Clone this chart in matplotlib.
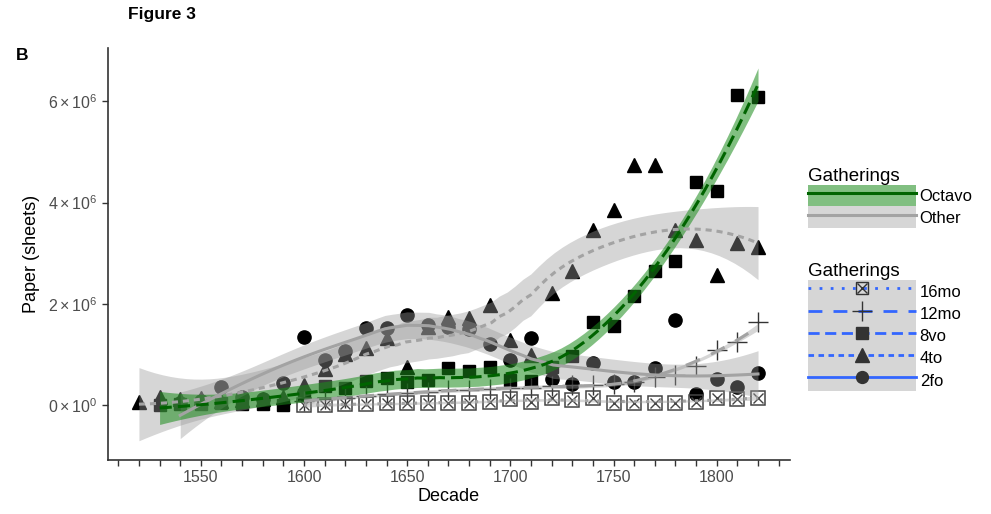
import numpy as np
import matplotlib
matplotlib.use('Agg')
import matplotlib.pyplot as plt
from matplotlib.lines import Line2D
from matplotlib.patches import Patch
from matplotlib.ticker import MultipleLocator, FuncFormatter

plt.rcParams['font.family'] = ['Liberation Sans', 'DejaVu Sans']
plt.rcParams['mathtext.fontset'] = 'custom'
plt.rcParams['mathtext.rm'] = 'Liberation Sans'
plt.rcParams['mathtext.it'] = 'Liberation Sans'

nan = np.nan

# decades on the x axis
decades = np.arange(1520, 1830, 10)

# paper use in millions of sheets (nan = no data)
fo2 = [nan, nan, 0.05, 0.08, 0.37, 0.17, 0.12, 0.43, 1.34, 0.90, 1.08, 1.52, 1.52, 1.78, 1.59, 1.55,
       1.50, 1.20, 0.90, 1.32, 0.51, 0.42, 0.83, 0.45, 0.45, 0.73, 1.69, 0.22, 0.51, 0.36, 0.64]
to4 = [0.07, 0.17, 0.12, 0.15, 0.08, 0.10, 0.12, 0.17, 0.40, 0.72, 1.02, 1.13, 1.33, 0.76, 1.55, 1.75,
       1.72, 1.98, 1.29, 1.00, 2.21, 2.65, 3.46, 3.86, 4.75, 4.75, 3.46, 3.27, 2.58, 3.20, 3.13]
vo8 = [nan, 0.00, 0.02, 0.02, 0.05, 0.03, 0.03, 0.00, 0.20, 0.39, 0.35, 0.48, 0.53, 0.45, 0.50, 0.74,
       0.68, 0.76, 0.50, 0.47, 0.75, 0.97, 1.65, 1.57, 2.16, 2.64, 2.84, 4.40, 4.22, 6.13, 6.09]
mo12 = [nan] * 8 + [0.08, 0.12, 0.15, 0.18, 0.22, 0.25, 0.27, 0.30, 0.30, 0.32, 0.35, 0.35, 0.38,
                    0.40, 0.40, 0.42, 0.45, 0.55, 0.60, 0.78, 1.10, 1.24, 1.64]
mo16 = [nan] * 8 + [0.00, 0.01, 0.02, 0.03, 0.04, 0.04, 0.05, 0.05, 0.05, 0.06, 0.12, 0.07, 0.15,
                    0.10, 0.15, 0.04, 0.04, 0.05, 0.05, 0.06, 0.15, 0.12, 0.15]

GREEN_FILL = '#1a8c1a'
GREEN_LINE = '#006400'
GRAY_FILL = '#999999'
GRAY_LINE = '#a3a3a3'
BLUE = '#3366FF'


def loess(x, y, xs, span=0.75):
    # local quadratic fit with tricube weights, like R's loess
    n = len(x)
    q = int(np.floor(n * span))

    def row(x0):
        d = np.abs(x - x0)
        h = np.sort(d)[q - 1]
        w = (1 - np.clip(d / h, 0, 1) ** 3) ** 3
        X = np.column_stack([np.ones(n), x - x0, (x - x0) ** 2])
        XtW = X.T * w
        return np.linalg.solve(XtW @ X, XtW)[0]

    L = np.array([row(v) for v in x])
    Ls = np.array([row(v) for v in xs])
    fit = Ls @ y
    IL = np.eye(n) - L
    A = IL.T @ IL
    d1 = np.trace(A)
    d2 = np.trace(A @ A)
    sigma2 = np.sum((y - L @ y) ** 2) / d1
    se = np.sqrt(sigma2 * np.sum(Ls ** 2, axis=1))
    df = d1 ** 2 / d2
    z = 1.959964
    t = z + (z ** 3 + z) / (4 * df) + (5 * z ** 5 + 16 * z ** 3 + 3 * z) / (96 * df ** 2)
    return fit, fit - t * se, fit + t * se


fig = plt.figure(figsize=(9.91, 5.14), dpi=100)
ax = fig.add_axes([108 / 991, 54 / 514, 682 / 991, 412 / 514])

series = [
    ('2fo', fo2, dict(marker='o', ms=9.5, color='black', ls='none'), '-'),
    ('4to', to4, dict(marker='^', ms=10.5, color='black', ls='none'), (0, (2, 1.6))),
    ('8vo', vo8, dict(marker='s', ms=9, color='black', ls='none'), (0, (4, 2))),
    ('12mo', mo12, dict(marker='+', ms=15, mew=1.0, color='#333333', ls='none'), (0, (5, 4))),
    ('16mo', mo16, dict(marker='s', ms=9.5, mfc='none', mec='#444444', mew=1.1, ls='none'), (0, (1, 3))),
]

# points first
for name, vals, style, ls in series:
    v = np.array(vals, dtype=float)
    ok = ~np.isnan(v)
    ax.plot(decades[ok], v[ok], zorder=2, **style)
    if name == '16mo':
        ax.plot(decades[ok], v[ok], marker='x', ms=7, mew=1.0, color='#444444', ls='none', zorder=2)

# loess smooths with confidence ribbons on top
for name, vals, style, ls in series:
    v = np.array(vals, dtype=float)
    ok = ~np.isnan(v)
    x = decades[ok].astype(float)
    xs = np.linspace(x.min(), x.max(), 80)
    fit, lo, hi = loess((x - 1700) / 100, v[ok], (xs - 1700) / 100)
    octavo = name == '8vo'
    ax.fill_between(xs, lo, hi, color=GREEN_FILL if octavo else GRAY_FILL,
                    alpha=0.55 if octavo else 0.4, lw=0, zorder=3)
    ax.plot(xs, fit, color=GREEN_LINE if octavo else GRAY_LINE, lw=2.2, ls=ls, zorder=4)

ax.set_xlim(1505, 1835.5)
ax.set_ylim(-1.08, 7.05)
ax.xaxis.set_major_locator(MultipleLocator(10))
ax.xaxis.set_major_formatter(FuncFormatter(lambda v, p: '%d' % v if round(v) % 50 == 0 else ''))
ax.set_yticks([0, 2, 4, 6])
ax.yaxis.set_major_formatter(FuncFormatter(
    lambda v, p: r'$0\times10^{0}$' if v == 0 else r'$%d\times10^{6}$' % v))

for s in ['top', 'right']:
    ax.spines[s].set_visible(False)
for s in ['left', 'bottom']:
    ax.spines[s].set_color('#333333')
    ax.spines[s].set_linewidth(1.2)
ax.tick_params(length=4, width=1, color='#333333', labelcolor='#4d4d4d', labelsize=11.5)
ax.set_xlabel('Decade', fontsize=13, labelpad=2)
ax.set_ylabel('Paper (sheets)', fontsize=13, labelpad=6)

fig.text(162 / 991, 1 - 15 / 514, 'Figure 3', fontsize=12.5, fontweight='bold', ha='center', va='center')
fig.text(22 / 991, 1 - 55 / 514, 'B', fontsize=12.5, fontweight='bold', ha='center', va='center')

# legends
h1 = [(Patch(fc=GREEN_FILL, alpha=0.55, lw=0), Line2D([], [], color=GREEN_LINE, lw=2.2)),
      (Patch(fc=GRAY_FILL, alpha=0.4, lw=0), Line2D([], [], color=GRAY_LINE, lw=2.2))]
leg1 = fig.legend(h1, ['Octavo', 'Other'], title='Gatherings', loc='upper left',
                  bbox_to_anchor=(808 / 991, 1 - 168 / 514), frameon=False, fontsize=12,
                  title_fontsize=13.5, handlelength=6.5, handleheight=1.6, labelspacing=0.0,
                  handletextpad=0.2, borderpad=0, borderaxespad=0, alignment='left')

mk = '#333333'
h2 = []
for name, vals, style, ls in series[::-1]:
    bg = Patch(fc=GRAY_FILL, alpha=0.4, lw=0)
    if name == '16mo':
        h2.append((bg, Line2D([], [], color=BLUE, lw=2, ls=ls, marker='s', ms=9, mfc='none',
                              mec=mk, mew=1.0),
                   Line2D([], [], ls='none', marker='x', ms=6.5, color=mk, mew=1.0)))
    elif name == '12mo':
        h2.append((bg, Line2D([], [], color=BLUE, lw=2, ls=ls, marker='+', ms=15, mec=mk, mew=1.0)))
    else:
        h2.append((bg, Line2D([], [], color=BLUE, lw=2, ls=ls, marker=style['marker'],
                              ms=style['ms'] * 0.9, mfc=mk, mec=mk)))
leg2 = fig.legend(h2, [s[0] for s in series[::-1]], title='Gatherings', loc='upper left',
                  bbox_to_anchor=(808 / 991, 1 - 263 / 514), frameon=False, fontsize=12,
                  title_fontsize=13.5, handlelength=6.5, handleheight=1.68, labelspacing=0.0,
                  handletextpad=0.2, borderpad=0, borderaxespad=0, alignment='left',
                  numpoints=1)

fig.savefig('out.png', dpi=100)
